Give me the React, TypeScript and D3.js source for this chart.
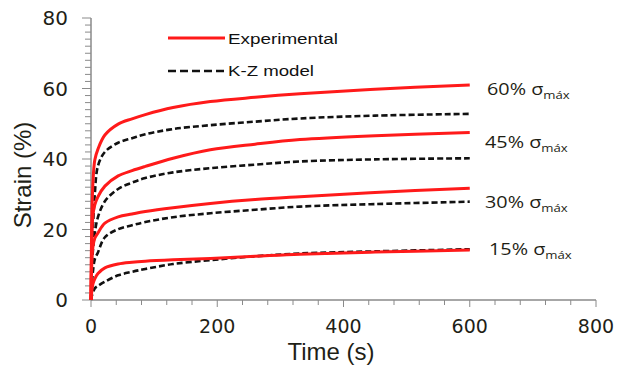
import React from "react";
import * as d3 from "d3";

const time = [0, 1, 3, 6, 11, 22, 43, 65, 86, 130, 189, 260, 331, 450, 600];
const exp60 = [0, 20, 33, 39.7, 42.8, 46.8, 49.9, 51.4, 52.6, 54.6, 56.3, 57.5, 58.5, 59.8, 61];
const mod60 = [0, 8, 20, 30, 38, 42, 44.6, 45.9, 47, 48.5, 49.6, 50.6, 51.5, 52.3, 52.8];
const exp45 = [0, 14, 24, 27, 29.3, 32.3, 35.2, 36.7, 37.9, 40.2, 42.6, 44.2, 45.5, 46.6, 47.5];
const mod45 = [0, 6, 14, 19, 23.5, 28, 31.5, 33.3, 34.6, 36.2, 37.4, 38.4, 39.3, 39.9, 40.2];
const exp30 = [0, 9, 15, 17.5, 19, 21.8, 23.6, 24.4, 25.1, 26.2, 27.4, 28.5, 29.3, 30.5, 31.7];
const mod30 = [0, 3, 8, 11.5, 13.5, 17.8, 20.1, 21.2, 22.1, 23.5, 24.6, 25.6, 26.5, 27.2, 27.9];
const exp15 = [0, 2, 4.5, 6, 7.5, 9.1, 10.2, 10.7, 11, 11.4, 11.8, 12.4, 13, 13.6, 14.2];
const mod15 = [0, 1, 2, 3.3, 4, 5.2, 7, 8, 8.8, 10.2, 11.3, 12.4, 13.2, 13.8, 14.4];

const expSeries = [exp60, exp45, exp30, exp15];
const modSeries = [mod60, mod45, mod30, mod15];
const levelLabels = ["60%", "45%", "30%", "15%"];
const xTicks = [0, 200, 400, 600, 800];
const yTicks = [0, 20, 40, 60, 80];

export default function App() {
  const x = d3.scaleLinear().domain([0, 800]).range([91, 596]);
  const y = d3.scaleLinear().domain([0, 80]).range([300, 18]);
  const line = (vals: number[]) =>
    d3
      .line<number>()
      .x((_, i) => x(time[i]))
      .y((v) => y(v))
      .curve(d3.curveCatmullRom.alpha(0.5))(vals) as string;

  const axisColor = "#8a8a8a";
  const textColor = "#1f1f17";
  const yMinor = d3.range(0, 81, 2);
  const xMinor = d3.range(0, 801, 40);
  const labelPos = [
    { x: 487, y: 95 },
    { x: 485, y: 148 },
    { x: 485, y: 208 },
    { x: 489, y: 255 },
  ];

  return (
    <svg
      width={617}
      height={368}
      style={{ position: "absolute", left: 0, top: 0, background: "#fff" }}
    >
      <rect width={617} height={368} fill="#fff" />
      {/* axes */}
      <line x1={x(0)} x2={x(0)} y1={y(0)} y2={y(80)} stroke={axisColor} strokeWidth={1.5} />
      <line x1={x(0)} x2={x(800)} y1={y(0)} y2={y(0)} stroke={axisColor} strokeWidth={1.5} />
      {yMinor.map((v) => (
        <line
          key={"ym" + v}
          x1={x(0) - (v % 20 === 0 ? 9 : 6)}
          x2={x(0)}
          y1={y(v)}
          y2={y(v)}
          stroke={axisColor}
          strokeWidth={1}
        />
      ))}
      {xMinor.map((v) => (
        <line
          key={"xm" + v}
          x1={x(v)}
          x2={x(v)}
          y1={y(0)}
          y2={y(0) + (v % 200 === 0 ? 7 : 5)}
          stroke={axisColor}
          strokeWidth={1}
        />
      ))}
      {yTicks.map((v) => (
        <text
          key={"yt" + v}
          x={68}
          y={y(v)}
          dy="0.36em"
          textAnchor="end"
          fontFamily="DejaVu Sans"
          fontSize={20}
          fill={textColor}
        >
          {v}
        </text>
      ))}
      {xTicks.map((v) => (
        <text
          key={"xt" + v}
          x={x(v)}
          y={333}
          textAnchor="middle"
          fontFamily="DejaVu Sans"
          fontSize={19}
          fill={textColor}
        >
          {v}
        </text>
      ))}
      <text
        x={331}
        y={360}
        textAnchor="middle"
        fontFamily="Liberation Sans"
        fontSize={24}
        fill={textColor}
      >
        Time (s)
      </text>
      <text
        transform={`translate(31,175) rotate(-90)`}
        textAnchor="middle"
        fontFamily="Liberation Sans"
        fontSize={24}
        fill={textColor}
      >
        Strain (%)
      </text>

      {/* curves */}
      {modSeries.map((s, i) => (
        <path
          key={"m" + i}
          d={line(s)}
          fill="none"
          stroke="#111"
          strokeWidth={2.6}
          strokeDasharray="6,3"
        />
      ))}
      {expSeries.map((s, i) => (
        <path key={"e" + i} d={line(s)} fill="none" stroke="#ff1a1a" strokeWidth={3} />
      ))}

      {/* legend */}
      <line x1={168} x2={225} y1={38} y2={38} stroke="#ff1a1a" strokeWidth={3} />
      <text
        x={228}
        y={44}
        fontFamily="Liberation Sans"
        fontSize={15.5}
        fill="#111"
        textLength={110}
        lengthAdjust="spacingAndGlyphs"
      >
        Experimental
      </text>
      <line
        x1={168}
        x2={225}
        y1={71}
        y2={71}
        stroke="#111"
        strokeWidth={2.4}
        strokeDasharray="8,4"
      />
      <text
        x={228}
        y={76}
        fontFamily="Liberation Sans"
        fontSize={15.5}
        fill="#111"
        textLength={86}
        lengthAdjust="spacingAndGlyphs"
      >
        K-Z model
      </text>

      {/* level labels */}
      {levelLabels.map((l, i) => (
        <g key={"l" + i} transform={`translate(${labelPos[i].x},${labelPos[i].y}) scale(1.2,1)`}>
          <text x={0} y={0} fontFamily="Open Sans" fontSize={16.5} fill="#1e1e14">
            {l} σ
            <tspan fontSize={11} dy={4}>
              máx
            </tspan>
          </text>
        </g>
      ))}
    </svg>
  );
}
